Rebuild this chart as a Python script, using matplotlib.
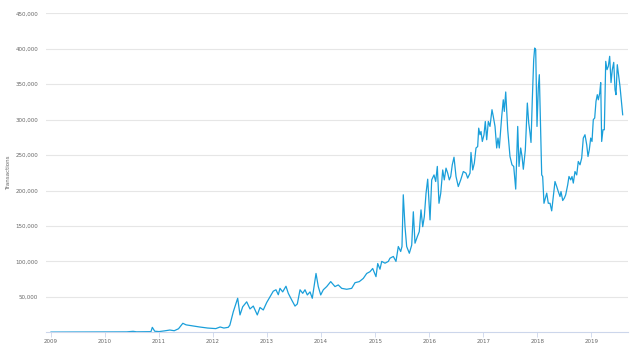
import matplotlib
matplotlib.use("Agg")
import matplotlib.pyplot as plt
from matplotlib.ticker import FuncFormatter

# decimal year of each observation
years = [
    2009.00, 2009.50, 2010.00, 2010.40, 2010.52, 2010.58, 2010.85, 2010.875, 2010.92,
    2011.00, 2011.10, 2011.20, 2011.28, 2011.36, 2011.44, 2011.50, 2011.60, 2011.75,
    2011.90, 2012.05, 2012.13, 2012.20, 2012.28, 2012.31,
    2012.374, 2012.455, 2012.498, 2012.548, 2012.622, 2012.683, 2012.744, 2012.818,
    2012.868, 2012.929, 2012.992, 2013.053, 2013.114, 2013.164, 2013.207, 2013.238,
    2013.288, 2013.349, 2013.392, 2013.455, 2013.516, 2013.559, 2013.609, 2013.659,
    2013.701, 2013.744, 2013.794, 2013.836, 2013.873, 2013.905, 2013.947, 2013.992,
    2014.040, 2014.103, 2014.177, 2014.256, 2014.317, 2014.380, 2014.473, 2014.565,
    2014.627, 2014.706, 2014.780, 2014.843, 2014.904, 2014.954, 2015.015, 2015.047,
    2015.089, 2015.121, 2015.182, 2015.243, 2015.274, 2015.336, 2015.385, 2015.428,
    2015.472, 2015.496, 2015.520, 2015.552, 2015.583, 2015.632, 2015.676, 2015.706,
    2015.737, 2015.780, 2015.816, 2015.848, 2015.880, 2015.909, 2015.941, 2015.972,
    2016.015, 2016.046, 2016.089, 2016.120, 2016.150, 2016.181, 2016.213, 2016.250,
    2016.279, 2016.311, 2016.342, 2016.372, 2016.398, 2016.427, 2016.459, 2016.496,
    2016.538, 2016.583, 2016.631, 2016.681, 2016.712, 2016.755, 2016.773, 2016.805,
    2016.835, 2016.866, 2016.897, 2016.916, 2016.940, 2016.959, 2016.983, 2017.014,
    2017.038, 2017.064, 2017.094, 2017.125, 2017.162, 2017.186, 2017.218, 2017.249,
    2017.273, 2017.297, 2017.342, 2017.371, 2017.390, 2017.416, 2017.453, 2017.495,
    2017.532, 2017.564, 2017.601, 2017.638, 2017.662, 2017.693, 2017.718, 2017.742,
    2017.779, 2017.816, 2017.842, 2017.866, 2017.884, 2017.908, 2017.934, 2017.952,
    2017.971, 2017.995, 2018.019, 2018.038, 2018.056, 2018.082, 2018.100, 2018.124,
    2018.149, 2018.175, 2018.204, 2018.236, 2018.267, 2018.297, 2018.328, 2018.360,
    2018.389, 2018.421, 2018.439, 2018.471, 2018.500, 2018.526, 2018.563, 2018.587,
    2018.619, 2018.643, 2018.667, 2018.698, 2018.730, 2018.759, 2018.791, 2018.822,
    2018.852, 2018.883, 2018.915, 2018.939, 2018.963, 2018.989, 2019.013, 2019.037,
    2019.063, 2019.087, 2019.111, 2019.130, 2019.156, 2019.174, 2019.192, 2019.216,
    2019.241, 2019.267, 2019.291, 2019.315, 2019.340, 2019.365, 2019.389, 2019.415,
    2019.439, 2019.457, 2019.481, 2019.500, 2019.531, 2019.555, 2019.581,
]

# transactions per day
transactions = [
    300, 400, 500, 600, 1400, 700, 900, 7000, 1500,
    1000, 2000, 3200, 2200, 5000, 12700, 10500, 9300, 7500,
    6000, 5200, 7500, 6000, 7000, 10000,
    29000, 48000, 24500, 36000, 43000, 33000, 37000, 24500,
    35000, 31500, 42000, 50000, 58000, 60000, 53000, 62000,
    57000, 65000, 55000, 45600, 37000, 40000, 60000, 55000,
    60000, 52700, 57000, 48000, 66800, 83000, 64500, 52700,
    60000, 64500, 71500, 64500, 66800, 62000, 60700, 62000,
    70000, 71500, 76000, 83000, 85500, 90000, 78500, 97000,
    89000, 100000, 97500, 100000, 104500, 107000, 100000, 121000,
    114000, 121000, 194000, 149000, 121000, 111500, 123000, 170000,
    125700, 135000, 142000, 172700, 149000, 163000, 196000, 216000,
    158600, 215000, 222000, 212700, 234000, 182000, 196000, 229000,
    215000, 231600, 224500, 215000, 219800, 236300, 247000, 219800,
    205600, 215000, 226800, 224500, 217500, 224500, 253700, 229000,
    238600, 260000, 262000, 288000, 278700, 283300, 269200, 278700,
    297400, 271600, 297400, 290400, 314000, 304500, 290400, 260000,
    274000, 260000, 304500, 328000, 311600, 339000, 285700, 248000,
    236300, 234000, 202000, 290400, 234000, 260000, 248000, 230000,
    257400, 323400, 295200, 281000, 267800, 328000, 384600, 401000,
    398700, 290400, 344600, 363400, 304500, 222000, 219800, 182000,
    189200, 196300, 182000, 182000, 171300, 191500, 212700, 205600,
    198500, 191500, 198500, 185900, 189200, 193900, 208000, 219800,
    215000, 219800, 210500, 226800, 222000, 241000, 236300, 245800,
    274000, 278700, 264600, 248000, 257400, 274000, 269200, 300000,
    302300, 325800, 335200, 328000, 337600, 352300, 269200, 285700,
    285700, 382200, 370500, 375200, 389300, 352300, 370500, 380800,
    342200, 335200, 377500, 365800, 346900, 328000, 306900,
]

year_ticks = list(range(2009, 2020))
value_ticks = [50000, 100000, 150000, 200000, 250000, 300000, 350000, 400000, 450000]

fig = plt.figure(figsize=(6.4, 3.55), dpi=100)
ax = fig.add_axes([46 / 640, 22.7 / 355, 582 / 640, 319 / 355])

ax.plot(years, transactions, color="#1a9fda", linewidth=0.9, solid_joinstyle="round")

ax.set_xlim(2009 - 5 / 54.03, 2009 + 577 / 54.03)
ax.set_ylim(0, 450000)

ax.set_xticks(year_ticks)
ax.set_xticklabels([str(y) for y in year_ticks])
ax.set_yticks(value_ticks)
ax.yaxis.set_major_formatter(FuncFormatter(lambda v, p: f"{int(v):,}"))

ax.grid(axis="y", color="#e6e6e6", linewidth=0.8)
ax.set_axisbelow(True)
for s in ["top", "right", "left"]:
    ax.spines[s].set_visible(False)
ax.spines["bottom"].set_color("#ccd6eb")
ax.spines["bottom"].set_linewidth(0.8)

ax.tick_params(axis="x", colors="#666666", labelsize=4, length=3.3, width=0.6,
               color="#ccd6eb", pad=1.5)
ax.tick_params(axis="y", colors="#666666", labelsize=4, length=0, pad=5.8)

ax.set_ylabel("Transactions", fontsize=4, color="#666666", labelpad=6)
ax.yaxis.set_label_coords(-(46 - 10.7) / 582, 0.5)

fig.savefig("out.png", dpi=100)
